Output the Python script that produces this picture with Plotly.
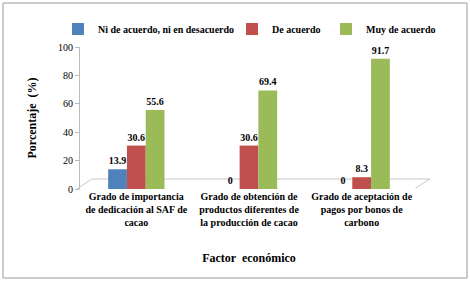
import plotly.graph_objects as go

categories = ["<b>Grado de importancia<br>de dedicación al SAF de<br>cacao</b>",
              "<b>Grado de obtención de<br>productos diferentes de<br>la producción de cacao</b>",
              "<b>Grado de aceptación de<br>pagos por bonos de<br>carbono</b>"]
series_names = ["Ni de acuerdo, ni en desacuerdo", "De acuerdo", "Muy de acuerdo"]
ni_vals = [13.9, 0, 0]
de_vals = [30.6, 30.6, 8.3]
muy_vals = [55.6, 69.4, 91.7]
colors = ["#4F81BD", "#C0504D", "#9BBB59"]
y_ticks = [0, 20, 40, 60, 80, 100]

font = "Liberation Serif, Times New Roman, serif"
L, R, T, B = 80, 52, 47, 93
W, H = 470, 282
pw, ph = W - L - R, H - T - B

def px(x):
    return (x - L) / pw

def py(y):
    return (H - B - y) / ph

legend_x = [px(58), px(232), px(326)]
legend_keys = ["legend", "legend2", "legend3"]

fig = go.Figure()
for name, vals, c, lk in zip(series_names, [ni_vals, de_vals, muy_vals], colors, legend_keys):
    fig.add_trace(go.Bar(
        x=categories, y=vals, name="<b>" + name + "</b>", marker_color=c,
        marker_line_width=0, legend=lk,
        text=["<b>%g</b>" % v for v in vals], textposition="outside",
        textfont=dict(family=font, size=10, color="#000"),
        cliponaxis=False,
    ))

layout_legends = {}
for lk, lx in zip(legend_keys, legend_x):
    layout_legends[lk] = dict(orientation="h", x=lx, y=py(29), xanchor="left", yanchor="middle",
                              font=dict(family=font, size=10, color="#000"),
                              itemwidth=30, bgcolor="rgba(0,0,0,0)")

fig.update_layout(
    width=W, height=H,
    margin=dict(l=L, r=R, t=T, b=B, autoexpand=False),
    paper_bgcolor="white", plot_bgcolor="white",
    barmode="group", bargap=0.5, bargroupgap=0.0,
    font=dict(family=font, size=10, color="#000"),
    showlegend=True,
    xaxis=dict(showline=False, ticks="", tickfont=dict(family=font, size=10),
               title=dict(text="<b>Factor  económico</b>", font=dict(family=font, size=12), standoff=26)),
    yaxis=dict(range=[0, 100], tickvals=y_ticks, showgrid=False, showline=True,
               linecolor="#bbbbbb", linewidth=1, ticks="outside", ticklen=4, tickcolor="#bbbbbb",
               tickfont=dict(family=font, size=10),
               title=dict(text="<b>Porcentaje  (%)</b>", font=dict(family=font, size=12), standoff=18)),
    shapes=[
        dict(type="rect", xref="paper", yref="paper", x0=px(3), x1=px(467), y0=py(278), y1=py(3),
             line=dict(color="#999999", width=1)),
        dict(type="path", xref="paper", yref="paper", layer="below",
             path="M %f %f L %f %f L %f %f L %f %f Z" % (px(77), py(189), px(92), py(179),
                                                         px(430), py(179), px(414), py(189)),
             line=dict(color="#c8c8c8", width=1), fillcolor="rgba(0,0,0,0)"),
    ],
    **layout_legends,
)
fig.write_html("out.html", config={"displayModeBar": False},
               post_script="document.body.style.margin='0';")
